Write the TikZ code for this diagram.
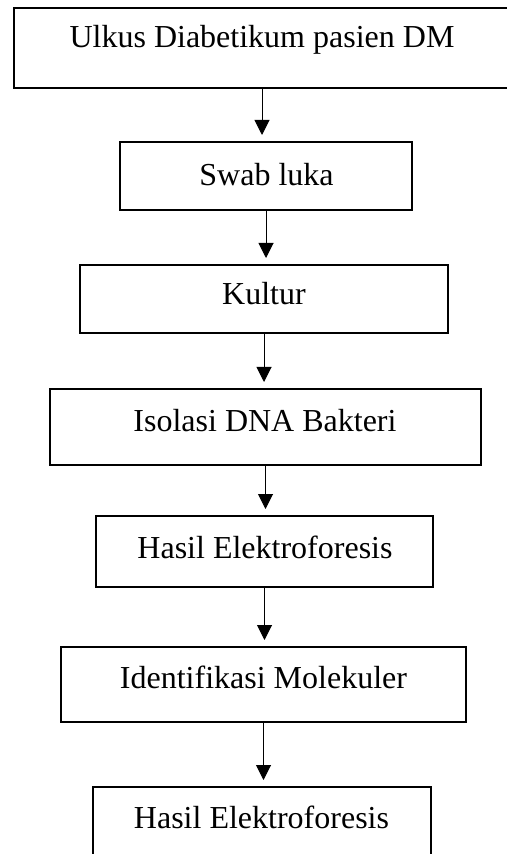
\documentclass[tikz,border=0pt]{standalone}
\usepackage{fontspec}
\setmainfont{Liberation Serif}
\usepackage{tikz}
\usetikzlibrary{arrows.meta}

\begin{document}
\begin{tikzpicture}[x=0.5pt, y=-0.5pt,
		box/.style={draw=black, line width=1pt, fill=white, inner sep=0pt},
		txt/.style={anchor=base, inner sep=0pt, font=\fontsize{16}{19}\selectfont},
		arr/.style={-{Triangle[width=7.5pt, length=7.5pt]}, line width=0.5pt, shorten >=3pt}]
			\def\bh{34pt}
			
			\useasboundingbox (0, 0) rectangle (507, 854);
			
			\node[box, minimum width=253pt, minimum height=40pt] (b1) at (267, 48) {};
			\node[box, minimum width=146pt, minimum height=\bh] (b2) at (266, 176) {};
			\node[box, minimum width=184pt, minimum height=\bh] (b3) at (264, 299) {};
			\node[box, minimum width=215.5pt, minimum height=38pt] (b4) at (265.5, 427) {};
			\node[box, minimum width=168.5pt, minimum height=35.5pt] (b5) at (264.5, 551.5) {};
			\node[box, minimum width=202.5pt, minimum height=37.5pt] (b6) at (263.5, 684.5) {};
			\node[box, minimum width=169pt, minimum height=37.5pt] (b7) at (262, 824.5) {};
			
			\node[txt] (t1) at (262, 48) {Ulkus Diabetikum pasien DM};
			\node[txt] (t2) at (266.5, 186) {Swab luka};
			\node[txt] (t3) at (264, 305) {Kultur};
			\node[txt] (t4) at (265, 431) {Isolasi DNA Bakteri};
			\node[txt] (t5) at (265, 558) {Hasil Elektroforesis};
			\node[txt] (t6) at (263.5, 688) {Identifikasi Molekuler};
			\node[txt] (t7) at (261.5, 828) {Hasil Elektroforesis};
			
			\draw[arr] (b1.south -| t1) -- (t1 |- b2.north);
			\foreach \a/\b in {b2/b3, b3/b4, b4/b5, b5/b6, b6/b7} {
				\draw[arr] (\a.south) -- (\a.south |- \b.north);
			}
			
		\end{tikzpicture}
\end{document}
